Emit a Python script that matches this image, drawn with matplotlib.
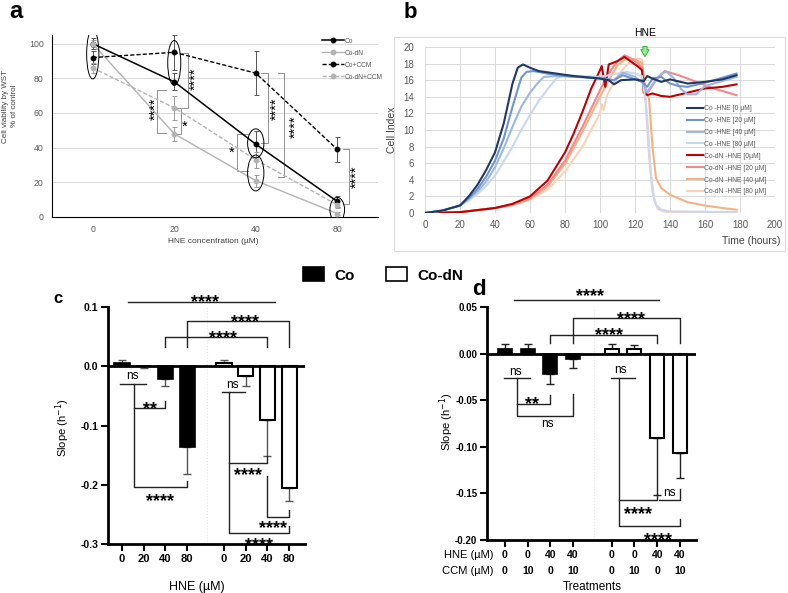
import matplotlib
matplotlib.use('Agg')
import matplotlib.pyplot as plt
import numpy as np
from matplotlib.patches import Ellipse, Rectangle, Patch
from matplotlib.transforms import offset_copy

plt.rcParams['font.family'] = ['Liberation Sans', 'DejaVu Sans']
plt.rcParams['mathtext.fontset'] = 'dejavusans'

# ---------------- data ----------------
# panel a
a_conc = ['0', '20', '40', '80']
a_co = [100, 78, 42, 9]
a_co_err = [3, 5, 7.5, 3]
a_dn = [100, 48, 21, 2]
a_dn_err = [2, 4, 3.5, 1]
a_ccm = [92, 95, 83, 39]
a_ccm_err = [4, 10, 12.5, 7]
a_dnccm = [86, 63, 33, 7]
a_dnccm_err = [3, 7, 4.5, 2]

# panel b (time in hours, cell index)
b_labels = ['Co -HNE [0 µM]', 'Co -HNE [20 µM]', 'Co -HNE [40 µM]', 'Co -HNE [80 µM]',
            'Co-dN -HNE [0µM]', 'Co-dN -HNE [20 µM]', 'Co-dN -HNE [40 µM]', 'Co-dN -HNE [80 µM]']
b_co0_t = [0, 10, 20, 25, 30, 35, 40, 45, 50, 53, 56, 60, 65, 75, 85, 100, 105, 108, 112, 120, 125, 127, 130, 135, 140, 150, 160, 170, 178]
b_co0_y = [0, 0.3, 0.9, 2.0, 3.4, 5.2, 7.3, 10.8, 15.6, 17.5, 17.9, 17.5, 17.1, 16.8, 16.5, 16.2, 16.0, 15.5, 16.0, 16.1, 15.9, 16.5, 16.2, 15.8, 16.1, 15.6, 15.8, 16.1, 16.6]
b_co20_t = [0, 10, 20, 25, 30, 35, 40, 45, 50, 55, 58, 62, 70, 80, 100, 108, 113, 120, 124, 127, 130, 135, 140, 145, 150, 160, 170, 178]
b_co20_y = [0, 0.3, 0.9, 1.8, 2.9, 4.4, 6.3, 9.0, 12.8, 16.3, 17.0, 17.1, 16.8, 16.5, 16.2, 16.0, 16.6, 16.1, 15.8, 15.2, 16.2, 16.4, 15.6, 15.3, 15.2, 15.7, 16.3, 16.8]
b_co40_t = [0, 10, 20, 25, 30, 35, 40, 45, 50, 55, 60, 65, 68, 75, 90, 100, 108, 113, 120, 124, 127, 130, 135, 138, 142, 146, 150, 155, 160, 170, 178]
b_co40_y = [0, 0.3, 0.9, 1.7, 2.6, 3.8, 5.5, 7.8, 10.4, 12.8, 14.5, 15.8, 16.4, 16.5, 16.4, 16.3, 16.0, 16.9, 16.4, 15.8, 14.6, 15.5, 16.8, 17.0, 16.3, 15.0, 14.3, 14.3, 15.3, 15.9, 16.4]
b_co80_t = [0, 10, 20, 25, 30, 35, 40, 45, 50, 55, 60, 65, 70, 75, 80, 100, 110, 115, 120, 124, 126, 128, 130, 132, 135, 140, 178]
b_co80_y = [0, 0.3, 0.9, 1.5, 2.3, 3.3, 4.5, 6.2, 8.0, 10.0, 11.8, 13.5, 14.9, 16.2, 16.6, 16.4, 16.8, 17.0, 16.8, 16.5, 13.5, 7.0, 2.5, 1.0, 0.4, 0.2, 0.1]
b_dn0_t = [0, 20, 40, 50, 60, 70, 80, 85, 90, 95, 100, 101, 103, 105, 110, 114, 118, 122, 124, 125, 127, 130, 135, 140, 150, 160, 170, 178]
b_dn0_y = [0, 0.1, 0.6, 1.1, 2.0, 3.9, 7.3, 9.6, 12.2, 15.0, 17.2, 17.7, 15.2, 17.9, 18.3, 18.8, 18.2, 17.6, 17.2, 14.5, 14.2, 14.4, 14.1, 14.0, 14.5, 15.0, 15.2, 15.5]
b_dn20_t = [0, 20, 40, 50, 60, 70, 80, 90, 100, 105, 110, 114, 118, 122, 124, 126, 128, 132, 137, 145, 155, 165, 178]
b_dn20_y = [0, 0.1, 0.6, 1.0, 1.8, 3.4, 6.3, 10.4, 14.8, 16.8, 18.3, 19.0, 18.6, 18.0, 17.5, 14.3, 14.7, 16.0, 17.1, 16.6, 15.8, 15.0, 14.2]
b_dn40_t = [0, 20, 40, 50, 60, 70, 80, 90, 100, 105, 110, 115, 120, 124, 126, 128, 130, 132, 135, 140, 150, 160, 170, 178]
b_dn40_y = [0, 0.1, 0.6, 1.0, 1.7, 3.2, 5.9, 9.8, 14.0, 16.0, 17.8, 18.6, 18.5, 18.1, 14.8, 13.8, 8.0, 4.2, 3.0, 2.2, 1.3, 0.9, 0.6, 0.4]
b_dn80_t = [0, 20, 40, 50, 60, 70, 80, 90, 100, 101, 102, 104, 110, 115, 120, 124, 125, 127, 129, 131, 133, 136, 140, 178]
b_dn80_y = [0, 0.1, 0.6, 0.9, 1.6, 2.8, 5.0, 8.0, 12.0, 13.1, 12.4, 14.2, 16.5, 17.8, 18.6, 18.5, 16.0, 11.5, 5.0, 1.5, 0.5, 0.2, 0.1, 0.1]
b_colors = ['#203864', '#6f93d3', '#9db7e2', '#c9d8ef', '#c00000', '#f4878a', '#f4b183', '#f9d2b8']

# panel c
c_ticklabels = ['0', '20', '40', '80', '0', '20', '40', '80']
c_co = [0.005, 0.001, -0.022, -0.136]
c_co_lo = [0, 0.004, 0.011, 0.046]
c_co_hi = [0.006, 0, 0, 0]
c_dn = [0.005, -0.016, -0.090, -0.206]
c_dn_lo = [0, 0.017, 0.062, 0.022]
c_dn_hi = [0.006, 0, 0, 0]

# panel d
d_hne = ['0', '0', '40', '40', '0', '0', '40', '40']
d_ccm = ['0', '10', '0', '10', '0', '10', '0', '10']
d_co = [0.005, 0.005, -0.022, -0.006]
d_co_lo = [0, 0, 0.011, 0.009]
d_co_hi = [0.005, 0.005, 0, 0]
d_dn = [0.005, 0.005, -0.091, -0.107]
d_dn_lo = [0, 0, 0.061, 0.026]
d_dn_hi = [0.005, 0.004, 0, 0]

# ---------------- figure ----------------
W, H = 788, 593
fig = plt.figure(figsize=(W / 100, H / 100), dpi=100)


def ax_px(l, t, r, b):
    return fig.add_axes([l / W, 1 - b / H, (r - l) / W, (b - t) / H])


def ftext(x, y, s, **kw):
    return fig.text(x / W, 1 - y / H, s, **kw)


def star(ax, x, y, s, fs, rot=0, weight='bold'):
    if rot == 0:
        tr = offset_copy(ax.transData, fig=fig, x=0, y=-0.57 * fs, units='points')
        ax.text(x, y, s, transform=tr, ha='center', va='baseline', fontsize=fs,
                fontweight=weight, clip_on=False)
    else:
        tr = offset_copy(ax.transData, fig=fig, x=0.57 * fs, y=0, units='points')
        ax.text(x, y, s, transform=tr, ha='center', va='baseline', fontsize=fs,
                fontweight=weight, rotation=90, rotation_mode='anchor', clip_on=False)


def ns(ax, x, y, fs=8.5):
    tr = offset_copy(ax.transData, fig=fig, x=0, y=-0.26 * fs, units='points')
    ax.text(x, y, 'ns', transform=tr, ha='center', va='baseline', fontsize=fs, clip_on=False)


# ================= panel a =================
axa = ax_px(52, 35, 378, 217)
xa = np.arange(len(a_conc))
axa.set_xlim(-0.5, 3.5)
axa.set_ylim(0, 105)
for g in [20, 40, 60, 80, 100]:
    axa.axhline(g, color='#d9d9d9', lw=0.7, zorder=0)
grey = '#b3b3b3'
ekw = dict(fmt='none', elinewidth=0.7, capsize=1.8, capthick=0.7, zorder=2)
axa.errorbar(xa, a_co, yerr=a_co_err, ecolor='#555555', **ekw)
axa.errorbar(xa, a_dn, yerr=a_dn_err, ecolor='#999999', **ekw)
axa.errorbar(xa, a_ccm, yerr=a_ccm_err, ecolor='#555555', **ekw)
axa.errorbar(xa, a_dnccm, yerr=a_dnccm_err, ecolor='#999999', **ekw)
axa.plot(xa, a_co, color='black', lw=1.1, marker='o', ms=3.2, label='Co', zorder=3)
axa.plot(xa, a_dn, color=grey, lw=1.0, marker='o', ms=3.2, label='Co-dN', zorder=3)
axa.plot(xa, a_ccm, color='black', lw=1.0, ls=(0, (3, 1.5)), marker='o', ms=3.2, label='Co+CCM', zorder=3)
axa.plot(xa, a_dnccm, color=grey, lw=1.0, ls=(0, (3, 1.5)), marker='o', ms=3.2, label='Co-dN+CCM', zorder=3)
axa.set_xticks(xa)
axa.set_xticklabels(a_conc)
axa.set_yticks([0, 20, 40, 60, 80, 100])
axa.tick_params(length=0, labelsize=6.3, labelcolor='#595959', pad=6)
for s in ['top', 'right']:
    axa.spines[s].set_visible(False)
axa.spines['left'].set_linewidth(0.8)
axa.spines['bottom'].set_linewidth(0.8)
axa.legend(loc='upper right', bbox_to_anchor=(1.015, 0.985), frameon=False, fontsize=4.8,
           handlelength=3.2, handletextpad=0.2, labelspacing=0.75, borderpad=0, borderaxespad=0,
           labelcolor='#595959')

a_ellipses = [(0, 94, 0.15, 28.7), (1, 88.9, 0.16, 25.9), (2, 42.5, 0.2, 16.7),
              (2, 25.4, 0.2, 20.7), (3, 4.2, 0.18, 14.2)]
for (ex, ey, ew, eh) in a_ellipses:
    axa.add_patch(Ellipse((ex, ey), ew, eh, fill=False, ec='black', lw=0.7, zorder=4))

a_brackets = [(1.17, 94.8, 62.6, 1.10), (0.79, 73.5, 48.6, 0.90), (1.085, 63, 48, 1.03),
              (1.77, 47.7, 26.8, 1.90), (2.15, 83.1, 42.5, 2.07), (2.35, 83.0, 23.0, 2.27),
              (3.14, 39.0, 7.6, 3.07)]
for (bx, y1, y2, bt) in a_brackets:
    axa.plot([bt, bx, bx, bt], [y1, y1, y2, y2], color='#808080', lw=0.6, zorder=1)

a_stars = [(1.21, 80, '****', 90), (0.72, 62.6, '****', 90), (1.13, 54.4, '*', 0),
           (1.70, 39.3, '*', 0), (2.20, 62.5, '****', 90), (2.44, 52, '****', 90),
           (3.19, 23.3, '****', 90)]
for (sx, sy, st, rot) in a_stars:
    star(axa, sx, sy, st, 10.5, rot=rot, weight='normal')

ftext(10, 106, 'Cell viability by WST\n% of control', rotation=90, ha='center', va='center',
      fontsize=5.8, color='#404040', linespacing=1.3)
ftext(213, 242, 'HNE concentration (µM)', ha='center', va='center', fontsize=6, color='#404040')
ftext(9, 18, 'a', fontsize=17, fontweight='bold', va='baseline')

# ================= panel b =================
fig.add_artist(Rectangle((394 / W, 1 - 251 / H), (785 - 394) / W, (251 - 37) / H,
                         transform=fig.transFigure, fill=False, ec='#d9d9d9', lw=0.8))
axb = ax_px(425, 47, 775, 213)
b_series = [(b_co0_t, b_co0_y), (b_co20_t, b_co20_y), (b_co40_t, b_co40_y), (b_co80_t, b_co80_y),
            (b_dn0_t, b_dn0_y), (b_dn20_t, b_dn20_y), (b_dn40_t, b_dn40_y), (b_dn80_t, b_dn80_y)]
handles = [None] * 8
for i in [7, 6, 5, 4, 3, 2, 1, 0]:
    t, y = b_series[i]
    ln, = axb.plot(t, y, color=b_colors[i], lw=1.5, label=b_labels[i], zorder=2 + (8 - i) * 0.1)
    handles[i] = ln
axb.set_xlim(0, 200)
axb.set_ylim(0, 20)
axb.set_xticks(range(0, 201, 20))
axb.set_yticks(range(0, 21, 2))
axb.grid(True, color='#d9d9d9', lw=0.7)
axb.set_axisbelow(True)
for s in axb.spines.values():
    s.set_visible(False)
axb.tick_params(length=0, labelsize=7, labelcolor='#595959')
axb.tick_params(axis='y', pad=8)
axb.tick_params(axis='x', pad=5)
axb.legend(handles=handles, loc='upper left', bbox_to_anchor=(0.749, 0.65), frameon=False,
           fontsize=4.9, handlelength=2.4, handletextpad=0.1, labelspacing=0.72, borderpad=0,
           borderaxespad=0, labelcolor='#595959')
axb.annotate('', xy=(125.7, 18.5), xytext=(125.7, 20.4), annotation_clip=False,
             arrowprops=dict(arrowstyle='simple,head_length=0.5,head_width=0.6,tail_width=0.3',
                             fc='#8ef08e', ec='#2ca02c', lw=0.6))
ftext(645, 33, 'HNE', ha='center', va='center', fontsize=7.5)
ftext(392, 130, 'Cell Index', rotation=90, ha='center', va='center', fontsize=7.5, color='#404040')
ftext(751, 241, 'Time (hours)', ha='center', va='center', fontsize=7.5, color='#404040')
ftext(404, 18, 'b', fontsize=16, fontweight='bold', va='baseline')

# ================= legend c/d =================
fig.legend(handles=[Patch(fc='black', ec='black', lw=1.2, label='Co'),
                    Patch(fc='white', ec='black', lw=1.2, label='Co-dN')],
           loc='center', bbox_to_anchor=(383 / W, 1 - 275 / H), ncol=2, frameon=False,
           prop=dict(size=11, weight='bold'), handlelength=1.4, handleheight=1.0,
           handletextpad=0.7, columnspacing=2.0)

pos = np.array([0, 1, 2, 3, 4.7, 5.7, 6.7, 7.7])


def style_bar_axes(ax):
    for s in ['top', 'right']:
        ax.spines[s].set_visible(False)
    ax.spines['left'].set_linewidth(2)
    ax.spines['bottom'].set_linewidth(2)
    ax.tick_params(axis='both', length=5, width=1.5, direction='out')
    ax.axhline(0, color='black', lw=2, zorder=4)
    ax.axvline(3.9, color='#e6e6e6', ls=':', lw=0.8, zorder=0)


def draw_lines(ax, lines):
    for pl in lines:
        xs = [p[0] for p in pl]
        ys = [p[1] for p in pl]
        ax.plot(xs, ys, color='#222222', lw=1.0, clip_on=False, zorder=5)


STAR_FS = 13

# ================= panel c =================
axc = ax_px(108, 307, 305, 544)
axc.bar(pos[:4], c_co, width=0.7, color='black', edgecolor='black', lw=1.2, zorder=3)
axc.bar(pos[4:], c_dn, width=0.7, color='white', edgecolor='black', lw=1.5, zorder=3)
axc.errorbar(pos[:4], c_co, yerr=[c_co_lo, c_co_hi], fmt='none', ecolor='#555555', elinewidth=1,
             capsize=3, capthick=1, zorder=2)
axc.errorbar(pos[4:], c_dn, yerr=[c_dn_lo, c_dn_hi], fmt='none', ecolor='#555555', elinewidth=1,
             capsize=3, capthick=1, zorder=2)
axc.set_xlim(-0.645, 8.43)
axc.set_ylim(-0.3, 0.1)
axc.set_yticks([-0.3, -0.2, -0.1, 0.0, 0.1])
axc.set_yticklabels(['-0.3', '-0.2', '-0.1', '0.0', '0.1'], fontweight='bold', fontsize=7.5)
axc.set_xticks(pos)
axc.set_xticklabels(c_ticklabels, fontweight='bold', fontsize=8)
style_bar_axes(axc)
axc.tick_params(axis='x', pad=2)
axc.tick_params(axis='y', pad=2)

c_lines = [
    [(0.28, 0.109), (7.05, 0.109)],
    [(2, 0.032), (2, 0.050), (6.7, 0.050), (6.7, 0.032)],
    [(3, 0.032), (3, 0.077), (7.7, 0.077), (7.7, 0.032)],
    [(-0.1, -0.030), (1.1, -0.030)],
    [(0.55, -0.030), (0.55, -0.203), (3.0, -0.203), (3.0, -0.193)],
    [(0.55, -0.071), (2.0, -0.071), (2.0, -0.059)],
    [(4.6, -0.044), (5.67, -0.044)],
    [(4.93, -0.044), (4.93, -0.281), (7.7, -0.281), (7.7, -0.269)],
    [(4.93, -0.163), (6.7, -0.163), (6.7, -0.152)],
    [(6.7, -0.185), (6.7, -0.254), (7.7, -0.254), (7.7, -0.243)],
]
draw_lines(axc, c_lines)
c_stars = [(3.82, 0.118, '****'), (4.65, 0.057, '****'), (5.67, 0.083, '****'),
           (1.30, -0.064, '**'), (1.73, -0.218, '****'), (5.81, -0.175, '****'),
           (6.30, -0.293, '****'), (6.96, -0.265, '****')]
for (sx, sy, st) in c_stars:
    star(axc, sx, sy, st, STAR_FS)
ns(axc, 0.48, -0.017)
ns(axc, 5.09, -0.031)
ftext(63, 428, 'Slope (h$^{-1}$)', rotation=90, ha='center', va='center', fontsize=8)
ftext(197, 587, 'HNE (µM)', ha='center', va='center', fontsize=9)
ftext(53, 303, 'c', fontsize=12, fontweight='bold', va='baseline')

# ================= panel d =================
axd = ax_px(487, 307, 696, 540)
axd.bar(pos[:4], d_co, width=0.62, color='black', edgecolor='black', lw=1.2, zorder=3)
axd.bar(pos[4:], d_dn, width=0.62, color='white', edgecolor='black', lw=1.5, zorder=3)
axd.errorbar(pos[:4], d_co, yerr=[d_co_lo, d_co_hi], fmt='none', ecolor='#222222', elinewidth=1,
             capsize=3, capthick=1, zorder=2)
axd.errorbar(pos[4:], d_dn, yerr=[d_dn_lo, d_dn_hi], fmt='none', ecolor='#222222', elinewidth=1,
             capsize=3, capthick=1, zorder=2)
axd.set_xlim(-0.79, 8.41)
axd.set_ylim(-0.2, 0.05)
axd.set_yticks([-0.2, -0.15, -0.1, -0.05, 0.0, 0.05])
axd.set_yticklabels(['-0.20', '-0.15', '-0.10', '-0.05', '0.00', '0.05'], fontweight='bold', fontsize=7)
axd.set_xticks(pos)
axd.set_xticklabels([])
style_bar_axes(axd)
axd.tick_params(axis='y', pad=2)
for i, p in enumerate(pos):
    axd.text(p, -0.066, d_hne[i], transform=axd.get_xaxis_transform(), ha='center', va='center',
             fontsize=7.5, fontweight='bold')
    axd.text(p, -0.133, d_ccm[i], transform=axd.get_xaxis_transform(), ha='center', va='center',
             fontsize=7.5, fontweight='bold')
ftext(493, 555.5, 'HNE (µM)', ha='right', va='center', fontsize=8)
ftext(493, 571, 'CCM (µM)', ha='right', va='center', fontsize=8)
ftext(592, 587, 'Treatments', ha='center', va='center', fontsize=8.5)
ftext(447, 422, 'Slope (h$^{-1}$)', rotation=90, ha='center', va='center', fontsize=8)
ftext(472, 295, 'd', fontsize=16, fontweight='bold', va='baseline')

d_lines = [
    [(0.4, 0.058), (6.8, 0.058)],
    [(2, 0.011), (2, 0.020), (6.7, 0.020), (6.7, 0.011)],
    [(3, 0.011), (3, 0.0385), (7.7, 0.0385), (7.7, 0.011)],
    [(-0.05, -0.026), (1.1, -0.026)],
    [(0.53, -0.026), (0.53, -0.067), (3.0, -0.067), (3.0, -0.043)],
    [(0.53, -0.054), (2.0, -0.054), (2.0, -0.044)],
    [(4.67, -0.026), (5.73, -0.026)],
    [(5.0, -0.026), (5.0, -0.185), (7.7, -0.185), (7.7, -0.177)],
    [(5.0, -0.157), (6.7, -0.157), (6.7, -0.151)],
    [(6.8, -0.157), (7.7, -0.157), (7.7, -0.145)],
]
draw_lines(axd, d_lines)
d_stars = [(3.73, 0.0675, '****'), (4.56, 0.0257, '****'), (5.53, 0.0425, '****'),
           (1.21, -0.0485, '**'), (5.84, -0.166, '****'), (6.72, -0.194, '****')]
for (sx, sy, st) in d_stars:
    star(axd, sx, sy, st, STAR_FS)
ns(axd, 0.48, -0.020)
ns(axd, 1.86, -0.0753)
ns(axd, 5.08, -0.0175)
ns(axd, 7.26, -0.149)

fig.savefig('out.png', dpi=100)
